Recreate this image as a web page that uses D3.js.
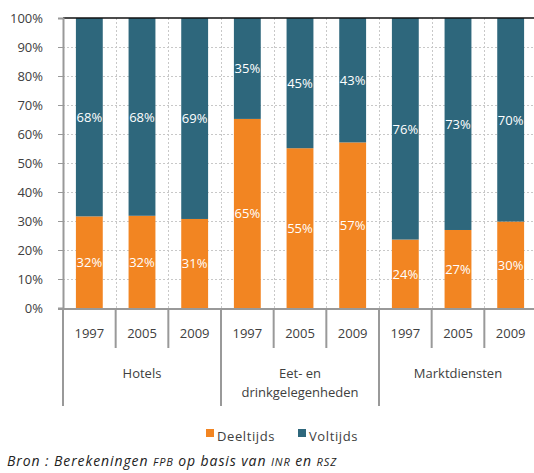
<!DOCTYPE html>
<html>
<head>
<meta charset="utf-8">
<script src="https://cdn.jsdelivr.net/npm/d3@7"></script>
<style>
  body { margin: 0; background: #fff; }
  svg { display: block; font-family: "Open Sans", sans-serif; }
</style>
</head>
<body>
<div id="chart"></div>
<script>
const groups = ["Hotels", "Eet- en\ndrinkgelegenheden", "Marktdiensten"];
const years = ["1997", "2005", "2009"];
const deeltijds = [31.6, 31.8, 30.7, 65.2, 55.1, 57.1, 23.6, 26.9, 29.8];
const voltijds = [68.4, 68.2, 69.3, 34.8, 44.9, 42.9, 76.4, 73.1, 70.2];
const yTicks = [0, 10, 20, 30, 40, 50, 60, 70, 80, 90, 100];

const width = 534, height = 473;
const margin = { top: 18, right: -3, bottom: 165, left: 63 };
const orange = "#f28522", teal = "#2e677c", textCol = "#404040";

const bars = [];
groups.forEach((g, gi) => years.forEach((y, yi) => {
    const i = gi * years.length + yi;
    bars.push({ key: gi + "-" + y, group: g, year: y, deel: deeltijds[i], vol: voltijds[i] });
}));

const svg = d3.select("#chart").append("svg")
    .attr("width", width).attr("height", height);

const xScale = d3.scaleBand()
    .domain(bars.map(d => d.key))
    .range([margin.left, width - margin.right])
    .paddingInner(0.49).paddingOuter(0.245);

const yScale = d3.scaleLinear()
    .domain([0, 100])
    .range([height - margin.bottom, margin.top]);

const step = xScale.step();
const x0 = margin.left;
const yBottom = yScale(0);

// dotted gridlines
const grid = svg.append("g").attr("stroke", "#c8c8c8").attr("stroke-dasharray", "2,2");
grid.selectAll("line.h").data(yTicks.slice(1, -1)).join("line")
    .attr("x1", x0).attr("x2", width)
    .attr("y1", d => Math.round(yScale(d)) + 0.5).attr("y2", d => Math.round(yScale(d)) + 0.5);
grid.selectAll("line.v").data(d3.range(1, bars.length)).join("line")
    .attr("x1", d => Math.round(x0 + d * step) + 0.5).attr("x2", d => Math.round(x0 + d * step) + 0.5)
    .attr("y1", yScale(100)).attr("y2", yBottom);

// stacked bars
const g = svg.append("g");
g.selectAll("rect.deel").data(bars).join("rect")
    .attr("x", d => xScale(d.key)).attr("width", xScale.bandwidth())
    .attr("y", d => yScale(d.deel)).attr("height", d => yBottom - yScale(d.deel))
    .attr("fill", orange);
g.selectAll("rect.vol").data(bars).join("rect")
    .attr("x", d => xScale(d.key)).attr("width", xScale.bandwidth())
    .attr("y", d => yScale(d.deel + d.vol)).attr("height", d => yScale(d.deel) - yScale(d.deel + d.vol))
    .attr("fill", teal);

// value labels
const lbl = svg.append("g").attr("fill", "#fff").attr("font-size", 13).attr("text-anchor", "middle");
lbl.selectAll("text.deel").data(bars).join("text")
    .attr("x", d => xScale(d.key) + xScale.bandwidth() / 2)
    .attr("y", d => (yBottom + yScale(d.deel)) / 2 + 5)
    .text(d => Math.round(d.deel) + "%");
lbl.selectAll("text.vol").data(bars).join("text")
    .attr("x", d => xScale(d.key) + xScale.bandwidth() / 2)
    .attr("y", d => (yScale(d.deel) + yScale(d.deel + d.vol)) / 2 + 5)
    .text(d => Math.round(d.vol) + "%");

// top border
svg.append("line").attr("x1", x0).attr("x2", width)
    .attr("y1", yScale(100)).attr("y2", yScale(100))
    .attr("stroke", "#111").attr("stroke-width", 1.5);

// y axis
const yAxis = svg.append("g")
    .attr("transform", `translate(${x0},0)`)
    .call(d3.axisLeft(yScale).tickValues(yTicks).tickFormat(d => d + "%").tickSize(5).tickPadding(15));
yAxis.select(".domain").attr("stroke", "#999").attr("stroke-width", 2);
yAxis.selectAll(".tick line").attr("stroke", "#999");
yAxis.selectAll("text").attr("font-size", 13).attr("fill", textCol).attr("font-family", "'Open Sans', sans-serif");

// x axis line
svg.append("line").attr("x1", x0 - 5).attr("x2", width)
    .attr("y1", yBottom + 1).attr("y2", yBottom + 1)
    .attr("stroke", "#999").attr("stroke-width", 2);

// category separators
const sep = svg.append("g").attr("stroke", "#999").attr("stroke-width", 2);
sep.selectAll("line").data(d3.range(0, bars.length + 1)).join("line")
    .attr("x1", d => x0 + d * step).attr("x2", d => x0 + d * step)
    .attr("y1", yBottom + 1)
    .attr("y2", d => d % 3 === 0 ? yBottom + 98 : yBottom + 40);

// year labels
svg.append("g").attr("font-size", 13).attr("fill", textCol).attr("text-anchor", "middle")
    .selectAll("text").data(bars).join("text")
    .attr("x", d => xScale(d.key) + xScale.bandwidth() / 2)
    .attr("y", yBottom + 30)
    .text(d => d.year);

// group labels
const gl = svg.append("g").attr("font-size", 13).attr("fill", textCol).attr("text-anchor", "middle");
groups.forEach((name, gi) => {
    const t = gl.append("text")
        .attr("x", x0 + (gi * 3 + 1.5) * step)
        .attr("y", yBottom + 70);
    name.split("\n").forEach((line, li) => {
        t.append("tspan").attr("x", x0 + (gi * 3 + 1.5) * step).attr("dy", li === 0 ? 0 : 19).text(line);
    });
});

// legend
const legend = svg.append("g").attr("font-size", 13).attr("fill", textCol).attr("letter-spacing", 0.6);
const items = [["Deeltijds", orange, 206], ["Voltijds", teal, 298]];
items.forEach(([name, col, lx]) => {
    legend.append("rect").attr("x", lx).attr("y", 429).attr("width", 8).attr("height", 8).attr("fill", col);
    legend.append("text").attr("x", lx + 11).attr("y", 441).text(name);
});

// source
const src = svg.append("text").attr("x", 7).attr("y", 466)
    .attr("font-size", 14).attr("font-style", "italic").attr("fill", "#222")
    .attr("letter-spacing", 0.9);
src.append("tspan").text("Bron : Berekeningen ");
src.append("tspan").attr("font-size", 11).text("FPB");
src.append("tspan").text(" op basis van ");
src.append("tspan").attr("font-size", 11).text("INR");
src.append("tspan").text(" en ");
src.append("tspan").attr("font-size", 11).text("RSZ");
</script>
</body>
</html>
